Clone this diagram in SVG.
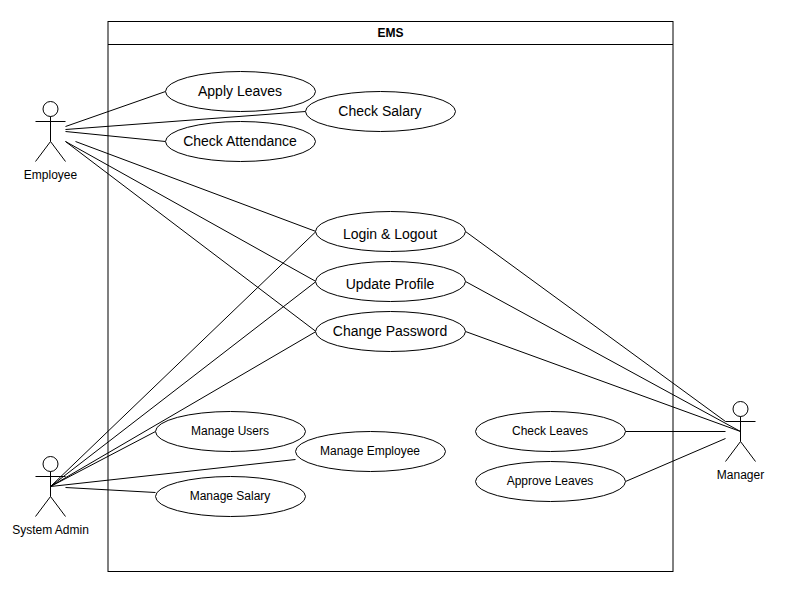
<svg xmlns="http://www.w3.org/2000/svg" width="795" height="594" viewBox="0 0 795 594">
<style>
text{font-family:"Liberation Sans",Arial,Helvetica,sans-serif;fill:#000;text-anchor:middle}
.c line{stroke:#000;stroke-width:1;fill:none}
.u ellipse{fill:#fff;stroke:#000;stroke-width:1}
.b{font-size:14px}
.s{font-size:12px}
.a circle,.a path{fill:#fff;stroke:#000;stroke-width:1}
.a path{fill:none}
</style>
<rect width="795" height="594" fill="#fff"/>
<g id="system">
<rect x="108" y="21.500" width="565" height="550" fill="#fff" stroke="#000"/>
<line x1="108" y1="44.500" x2="673" y2="44.500" stroke="#000"/>
<text x="390.500" y="37" font-size="12" font-weight="bold">EMS</text>
</g>
<g id="connectors" class="c">
<line x1="65.500" y1="126.500" x2="165.500" y2="91.500"/>
<line x1="65.500" y1="129.500" x2="305.500" y2="111.500"/>
<line x1="65.500" y1="131.500" x2="165.500" y2="141.500"/>
<line x1="75.500" y1="141.500" x2="316" y2="231.500"/>
<line x1="65.500" y1="141.500" x2="316" y2="281.500"/>
<line x1="65.500" y1="141.500" x2="316" y2="331.500"/>
<line x1="50.500" y1="486.500" x2="316" y2="231.500"/>
<line x1="50.500" y1="486.500" x2="316" y2="281.500"/>
<line x1="50.500" y1="486.500" x2="316" y2="331.500"/>
<line x1="50.500" y1="486.500" x2="155.500" y2="431.500"/>
<line x1="50.500" y1="486.500" x2="295.500" y2="459.500"/>
<line x1="65.500" y1="487.500" x2="155.500" y2="492.500"/>
<line x1="465.500" y1="231.500" x2="725.500" y2="421.500"/>
<line x1="465.500" y1="281.500" x2="740.500" y2="431.500"/>
<line x1="465.500" y1="331.500" x2="740.500" y2="431.500"/>
<line x1="625.500" y1="431.500" x2="725.500" y2="431.500"/>
<line x1="625.500" y1="481.500" x2="725.500" y2="438.500"/>
</g>
<g class="u">
<g id="apply-leaves"><ellipse cx="240.500" cy="91.500" rx="75" ry="20"/><text class="b" x="240" y="96">Apply Leaves</text></g>
<g id="check-salary"><ellipse cx="380.500" cy="111.500" rx="75" ry="20"/><text class="b" x="380" y="116">Check Salary</text></g>
<g id="check-attendance"><ellipse cx="240.500" cy="141.500" rx="75" ry="20"/><text class="b" x="240" y="146">Check Attendance</text></g>
<g id="login-logout"><ellipse cx="390.500" cy="231.500" rx="75" ry="20"/><text class="b" x="390" y="239">Login &amp; Logout</text></g>
<g id="update-profile"><ellipse cx="390.500" cy="281.500" rx="75" ry="20"/><text class="b" x="390" y="289">Update Profile</text></g>
<g id="change-password"><ellipse cx="390.500" cy="331.500" rx="75" ry="20"/><text class="b" x="390" y="336">Change Password</text></g>
<g id="manage-users"><ellipse cx="230.500" cy="431.500" rx="75" ry="20"/><text class="s" x="230" y="435">Manage Users</text></g>
<g id="manage-employee"><ellipse cx="370.500" cy="451.500" rx="75" ry="20"/><text class="s" x="370" y="455">Manage Employee</text></g>
<g id="manage-salary"><ellipse cx="230.500" cy="496.500" rx="75" ry="20"/><text class="s" x="230" y="500">Manage Salary</text></g>
<g id="check-leaves"><ellipse cx="550.500" cy="431.500" rx="75" ry="20"/><text class="s" x="550" y="435">Check Leaves</text></g>
<g id="approve-leaves"><ellipse cx="550.500" cy="481.500" rx="75" ry="20"/><text class="s" x="550" y="485">Approve Leaves</text></g>
</g>
<g id="employee" class="a">
<circle cx="50.500" cy="109" r="7.500"/>
<path d="M50.500 116.500V141.500M35.500 121.500H65.500M50.500 141.500L35.500 161.500M50.500 141.500L65.500 161.500"/>
<text class="s" x="50.500" y="179">Employee</text>
</g>
<g id="system-admin" class="a">
<circle cx="50.500" cy="464" r="7.500"/>
<path d="M50.500 471.500V496.500M35.500 476.500H65.500M50.500 496.500L35.500 516.500M50.500 496.500L65.500 516.500"/>
<text class="s" x="50.500" y="534">System Admin</text>
</g>
<g id="manager" class="a">
<circle cx="740.500" cy="409" r="7.500"/>
<path d="M740.500 416.500V441.500M725.500 421.500H755.500M740.500 441.500L725.500 461.500M740.500 441.500L755.500 461.500"/>
<text class="s" x="740.500" y="479">Manager</text>
</g>
</svg>
